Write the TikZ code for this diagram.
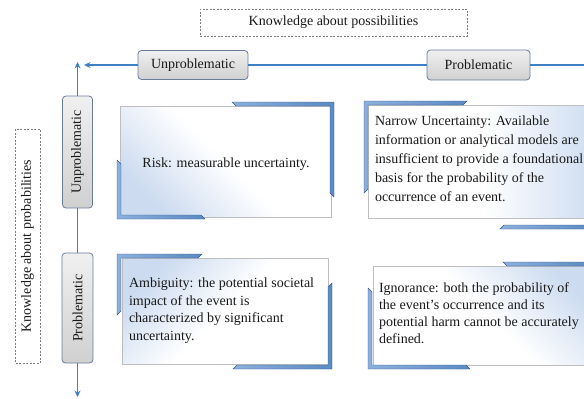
\documentclass[tikz,border=0pt]{standalone}
\usepackage{fontspec}
\setmainfont{Liberation Serif}
\usetikzlibrary{arrows.meta}

\definecolor{kptext}{RGB}{25,25,25}
\definecolor{kpaxis}{RGB}{62,128,197}
\definecolor{kpdash}{RGB}{125,125,125}
\definecolor{kpcell}{RGB}{190,190,190}
\definecolor{kpshade}{RGB}{204,219,240}
\definecolor{kpbrk}{RGB}{92,138,196}
\definecolor{kpbrklight}{RGB}{140,176,220}
\definecolor{kpbrkdark}{RGB}{50,88,142}
\definecolor{kptagline}{RGB}{105,125,155}
\definecolor{kptagtop}{RGB}{240,240,240}
\definecolor{kptagbot}{RGB}{208,208,208}

\tikzset{
  pics/kpBracket/.style 2 args={code={
    \path[kpBrk] (0,0) -- (#1,0) -- (#1-4,4) -- (4,4) -- (4,#2-4) -- (0,#2) -- cycle;
  }}
}

\begin{document}
\begin{tikzpicture}[
  x=1pt,
  y=-1pt,
  >={Stealth[length=6.5pt,width=6pt]},
  every node/.style={inner sep=0pt, outer sep=0pt},
  kpBody/.style={font=\fontsize{14}{19}\selectfont, text=kptext, align=left},
  kpHead/.style={font=\fontsize{14}{16}\selectfont, text=kptext, align=center},
  kpTag/.style={kpHead, draw=kptagline, line width=0.8pt, rounded corners=3.5pt, top color=kptagtop, bottom color=kptagbot},
  kpDash/.style={draw=kpdash, line width=0.5pt, dash pattern=on 2pt off 1.5pt},
  kpAxis/.style={draw=kpaxis, line width=1.6pt},
  kpCell/.style={draw=kpcell, line width=0.6pt},
  kpBrk/.style={left color=kpbrklight, right color=kpbrk, draw=kpbrkdark, line width=0.4pt}
]

  \useasboundingbox (0,0) rectangle (584,399);

  % axis titles
  \node[kpHead, kpDash, minimum width=267, minimum height=27] (possib) at (333.5,22.5) {Knowledge about possibilities};
  \node[kpHead, kpDash, rotate=90, minimum width=234, minimum height=25] (probab) at (27.5,246) {Knowledge about probabilities};

  % axes
  \node[kpTag, minimum width=110, minimum height=29] (hunprob) at (193,65) {Unproblematic};
  \node[kpTag, minimum width=103, minimum height=30] (hprob) at (478.5,65) {Problematic};
  \node[kpTag, rotate=90, minimum width=112, minimum height=30] (vunprob) at (77.5,152) {Unproblematic};
  \node[kpTag, rotate=90, minimum width=110, minimum height=31] (vprob) at (77.5,308) {Problematic};

  \coordinate (hEnd) at (592,65);
  \coordinate (hTip) at (84,65);
  \coordinate (vTip) at (77.5,62);
  \coordinate (vBot) at (77.5,397);

  \draw[kpAxis] (hEnd) -- (hprob);
  \draw[kpAxis] (hprob) -- (hunprob);
  \draw[kpAxis, ->] (hunprob) -- (hTip);
  \draw[kpAxis, ->] (vunprob) -- (vTip);
  \draw[kpAxis] (vunprob) -- (vprob);
  \draw[kpAxis, ->] (vprob) -- (vBot);

  % cells
  \path[kpCell, bottom color=kpshade, top color=white, middle color=white, shading angle=-45] (120,106) rectangle (331,217);
  \path[kpCell, bottom color=kpshade, top color=white, middle color=white, shading angle=90] (368,105) rectangle (600,218);
  \path[kpCell, top color=kpshade, bottom color=white, middle color=white, shading angle=45] (122,258) rectangle (328,364);
  \path[kpCell, top color=kpshade, bottom color=white, middle color=white, shading angle=-45] (373,266) rectangle (600,365);

  \pic[xscale=-1] at (334,102) {kpBracket={102}{95}};
  \pic[yscale=-1] at (117,219) {kpBracket={88}{59}};
  \pic at (364,101) {kpBracket={103}{92}};
  \pic[xscale=-1, yscale=-1] at (592,229) {kpBracket={92}{60}};
  \pic at (117,254) {kpBracket={85}{61}};
  \pic[xscale=-1, yscale=-1] at (332,369) {kpBracket={99}{86}};
  \pic[xscale=-1] at (592,262) {kpBracket={89}{60}};
  \pic[yscale=-1] at (368,369) {kpBracket={102}{81}};

  \node[kpBody] (risk) at (226,164) {Risk: measurable uncertainty.};
  \node[kpBody, anchor=north west] (narrow) at (375,116) {Narrow Uncertainty: Available\\information or analytical models are\\insufficient to provide a foundational\\basis for the probability of the\\occurrence of an event.};
  \node[kpBody, anchor=north west, font=\fontsize{14}{17.5}\selectfont] (ambig) at (129,278) {Ambiguity: the potential societal\\impact of the event is\\characterized by significant\\uncertainty.};
  \node[kpBody, anchor=north west, font=\fontsize{14}{17}\selectfont] (ignor) at (379,283) {Ignorance: both the probability of\\the event\char"27 s occurrence and its\\potential harm cannot be accurately\\defined.};

\end{tikzpicture}
\end{document}
